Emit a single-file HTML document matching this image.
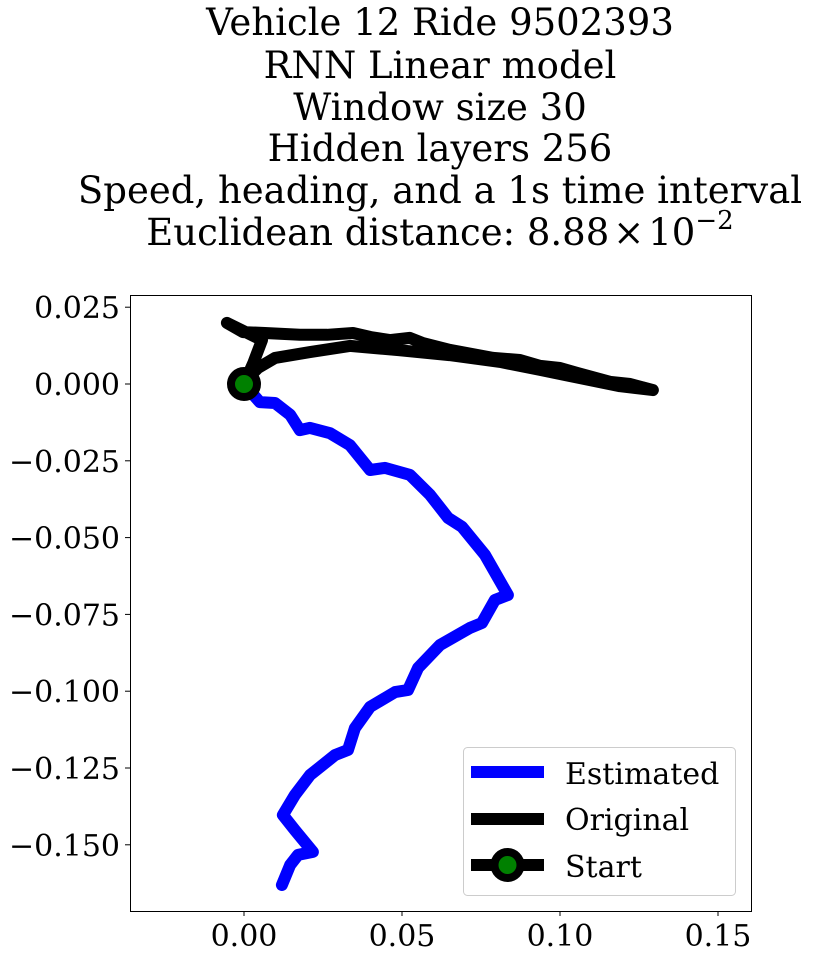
<!DOCTYPE html>
<html><head><meta charset="utf-8"><style>
html,body{margin:0;padding:0;background:#fff;}
svg text{font-family:"DejaVu Serif","Liberation Serif",serif;fill:#000;}
</style></head><body>
<svg width="814" height="958" xmlns="http://www.w3.org/2000/svg" id="chart">
<g font-size="37" text-anchor="middle">
<text x="440" y="35">Vehicle 12 Ride 9502393</text>
<text x="440" y="78">RNN Linear model</text>
<text x="440" y="120">Window size 30</text>
<text x="440" y="161">Hidden layers 256</text>
<text x="440" y="203">Speed, heading, and a 1s time interval</text>
<text x="440" y="245">Euclidean distance: 8.88<tspan dx="4">×</tspan><tspan dx="4">10</tspan><tspan dy="-16" font-size="26">−2</tspan></text>
</g>
<g id="plot"></g>
<rect x="130.5" y="295.5" width="621" height="616" fill="none" stroke="#000" stroke-width="1"/>
<g id="ticks" font-size="30"></g>
<g>
<rect x="463.5" y="747.5" width="272" height="148" rx="4" fill="#fff" fill-opacity="0.8" stroke="#ccc"/>
<line x1="471" y1="772" x2="544" y2="772" stroke="#0000ff" stroke-width="12"/>
<text x="565" y="784" font-size="30">Estimated</text>
<line x1="471" y1="819" x2="544" y2="819" stroke="#000" stroke-width="12"/>
<text x="565" y="830" font-size="30">Original</text>
<line x1="471" y1="865" x2="544" y2="865" stroke="#000" stroke-width="12"/>
<circle cx="507.5" cy="865" r="13" fill="green" stroke="#000" stroke-width="8"/>
<text x="565" y="877" font-size="30">Start</text>
</g>
</svg>
<script>
const xTicks=[0.00,0.05,0.10,0.15];
const xTickLabels=["0.00","0.05","0.10","0.15"];
const yTicks=[0.025,0,-0.025,-0.05,-0.075,-0.1,-0.125,-0.15];
const yTickLabels=["0.025","0.000","\u22120.025","\u22120.050","\u22120.075","\u22120.100","\u22120.125","\u22120.150"];
const estX=[0,0.005,0.0098,0.0146,0.0177,0.0209,0.0272,0.0335,0.0399,0.0446,0.0525,0.0589,0.0646,0.069,0.0763,0.0835,0.0794,0.0753,0.0715,0.062,0.0551,0.0519,0.0478,0.0399,0.0351,0.0329,0.0288,0.0209,0.0161,0.0123,0.0161,0.0218,0.0171,0.0146,0.012];
const estY=[0,-0.0059,-0.0062,-0.01,-0.015,-0.0143,-0.016,-0.0199,-0.028,-0.0273,-0.0296,-0.0361,-0.0436,-0.0465,-0.0557,-0.0687,-0.0703,-0.0778,-0.0794,-0.085,-0.0924,-0.0996,-0.1003,-0.1051,-0.112,-0.1191,-0.1208,-0.1273,-0.1338,-0.1403,-0.1452,-0.1523,-0.1533,-0.1566,-0.1631];
const origX=[0,0.003,0.0057,-0.0054,-0.0003,0.0066,0.0177,0.0263,0.0345,0.04,0.0462,0.0525,0.0566,0.0652,0.0788,0.0873,0.0937,0.1,0.1054,0.1158,0.1222,0.1294,0.119,0.106,0.0937,0.081,0.065,0.049,0.0335,0.0209,0.0098,0.0044,0.0019,0];
const origY=[0,0.007,0.0143,0.0199,0.0169,0.0166,0.016,0.016,0.0166,0.0153,0.0143,0.015,0.0133,0.0111,0.0085,0.0078,0.0059,0.0052,0.0036,0.0007,0,-0.002,-0.0007,0.002,0.0046,0.0072,0.0094,0.011,0.0124,0.0104,0.0085,0.0052,0.0026,0];
const startPt=[0,0];
const NS="http://www.w3.org/2000/svg";
function sx(v){return 244+v/0.05*158;}
function sy(v){return 384-v/0.025*76.8;}
const plot=document.getElementById('plot');
function poly(xs,ys,color,name){
  const p=document.createElementNS(NS,'polyline');
  p.setAttribute('points',xs.map((x,i)=>sx(x).toFixed(1)+','+sy(ys[i]).toFixed(1)).join(' '));
  p.setAttribute('fill','none');p.setAttribute('stroke',color);p.setAttribute('stroke-width','12');
  p.setAttribute('stroke-linejoin','round');p.setAttribute('stroke-linecap','round');
  
  
  plot.appendChild(p);
}
poly(estX,estY,'#0000ff','estimated-line');
poly(origX,origY,'#000','original-line');
const c=document.createElementNS(NS,'circle');
c.setAttribute('cx',sx(startPt[0]));c.setAttribute('cy',sy(startPt[1]));c.setAttribute('r','13');
c.setAttribute('fill','green');c.setAttribute('stroke','#000');c.setAttribute('stroke-width','8');


plot.appendChild(c);
const tg=document.getElementById('ticks');
xTicks.forEach((v,i)=>{
  const l=document.createElementNS(NS,'line');
  l.setAttribute('x1',sx(v));l.setAttribute('x2',sx(v));l.setAttribute('y1',911);l.setAttribute('y2',916);l.setAttribute('stroke','#000');
  
  
  tg.appendChild(l);
  const t=document.createElementNS(NS,'text');
  t.setAttribute('x',sx(v));t.setAttribute('y',946);t.setAttribute('text-anchor','middle');t.textContent=xTickLabels[i];
  
  
  tg.appendChild(t);
});
yTicks.forEach((v,i)=>{
  const l=document.createElementNS(NS,'line');
  l.setAttribute('x1',125);l.setAttribute('x2',130);l.setAttribute('y1',sy(v));l.setAttribute('y2',sy(v));l.setAttribute('stroke','#000');
  
  
  tg.appendChild(l);
  const t=document.createElementNS(NS,'text');
  t.setAttribute('x',120);t.setAttribute('y',sy(v)+11);t.setAttribute('text-anchor','end');t.textContent=yTickLabels[i];
  
  
  tg.appendChild(t);
});
</script>
</body></html>
